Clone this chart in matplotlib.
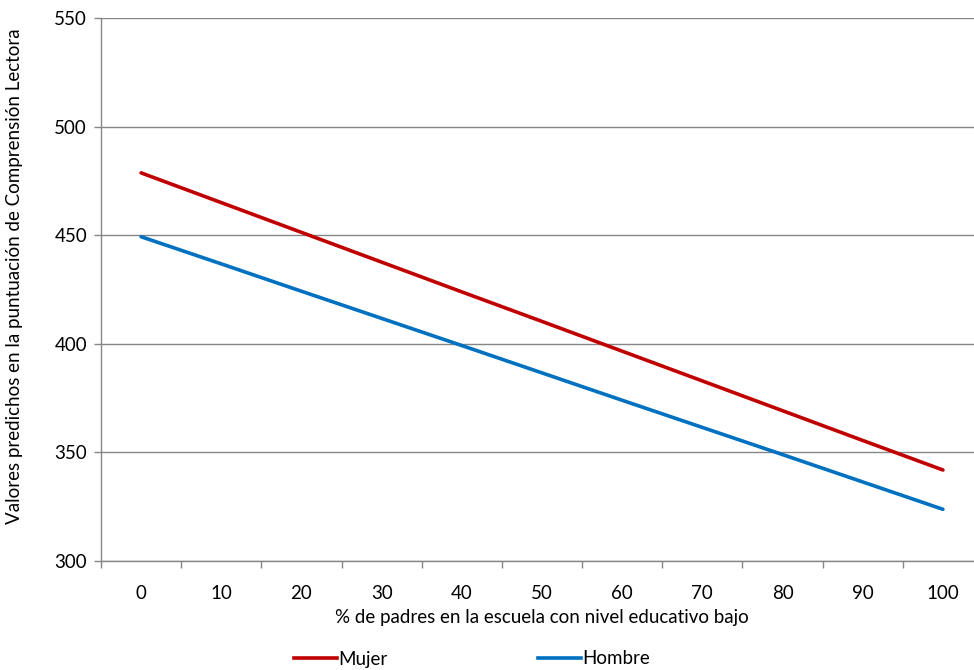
import matplotlib.pyplot as plt
from matplotlib.lines import Line2D

plt.rcParams['font.family'] = ['Lato', 'DejaVu Sans']

categories = ['0', '10', '20', '30', '40', '50', '60', '70', '80', '90', '100']
mujer = [478.7, 465.0, 451.3, 437.6, 423.9, 410.3, 396.6, 382.9, 369.2, 355.5, 341.9]
hombre = [449.3, 436.8, 424.2, 411.7, 399.2, 386.6, 374.0, 361.5, 349.0, 336.4, 323.8]
y_ticks = [300, 350, 400, 450, 500, 550]

grid_col = '#868686'
red = '#C00000'
blue = '#0070C0'
fs = 13.5


def main():
    fig = plt.figure(figsize=(9.74, 6.70), dpi=100)
    # plot area runs past the right edge, as in the cropped original
    ax = fig.add_axes([101 / 974, 1 - 561 / 670, 882 / 974, 543 / 670])

    x = list(range(len(categories)))
    ax.plot(x, mujer, color=red, lw=2.6, solid_capstyle='round')
    ax.plot(x, hombre, color=blue, lw=2.6, solid_capstyle='round')

    ax.set_xlim(-0.5, len(categories) - 0.5)
    ax.set_ylim(300, 550)
    ax.set_yticks(y_ticks)
    ax.yaxis.grid(True, color=grid_col, lw=1)
    ax.set_axisbelow(True)

    ax.set_xticks(x)
    ax.set_xticklabels(categories)
    ax.set_xticks([i + 0.5 for i in range(-1, len(categories))], minor=True)
    ax.tick_params(axis='x', which='major', length=0, pad=17, labelsize=fs)
    ax.tick_params(axis='x', which='minor', length=5, color=grid_col, width=1)
    ax.tick_params(axis='y', length=5, color=grid_col, width=1, pad=5, labelsize=fs)

    for s in ['top', 'right']:
        ax.spines[s].set_visible(False)
    for s in ['left', 'bottom']:
        ax.spines[s].set_color(grid_col)
        ax.spines[s].set_linewidth(1)

    fig.text(15 / 974, 1 - 276 / 670, 'Valores predichos en la puntuación de Comprensión Lectora',
             rotation=90, ha='center', va='center', fontsize=fs)
    fig.text(542 / 974, 1 - 618 / 670, '% de padres en la escuela con nivel educativo bajo',
             ha='center', va='center', fontsize=fs)

    handles = [Line2D([], [], color=red, lw=2.6), Line2D([], [], color=blue, lw=2.6)]
    fig.legend(handles, ['Mujer', 'Hombre'], loc='center', bbox_to_anchor=(472 / 974, 1 - 659 / 670),
               ncol=2, frameon=False, fontsize=fs, handlelength=2.3, handletextpad=0.1,
               columnspacing=8.0, borderaxespad=0)

    fig.savefig('out.png', dpi=100)


if __name__ == '__main__':
    main()
